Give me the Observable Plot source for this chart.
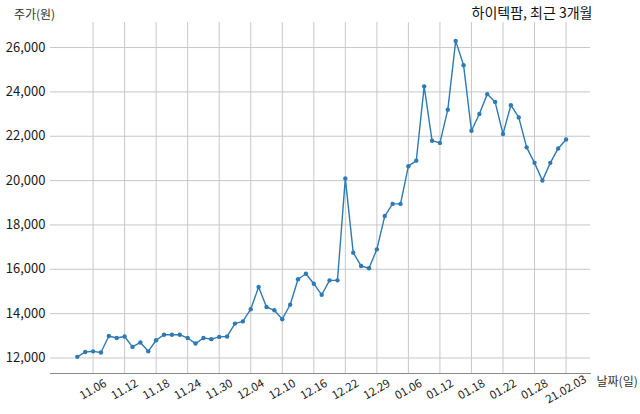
<!DOCTYPE html>
<html>
<head>
<meta charset="utf-8">
<script src="https://cdn.jsdelivr.net/npm/d3@7"></script>
<script src="https://cdn.jsdelivr.net/npm/@observablehq/plot@0.6"></script>
<style>
  body { margin: 0; background: #fff; }
  #chart svg { display: block; }
</style>
</head>
<body>
<div id="chart"></div>
<script>
// Trading days (index-based x axis)
const dates = [
  "2020-11-04","2020-11-05","2020-11-06","2020-11-09","2020-11-10","2020-11-11","2020-11-12","2020-11-13",
  "2020-11-16","2020-11-17","2020-11-18","2020-11-19","2020-11-20","2020-11-23","2020-11-24","2020-11-25",
  "2020-11-26","2020-11-27","2020-11-30",
  "2020-12-01","2020-12-02","2020-12-03","2020-12-04","2020-12-07","2020-12-08","2020-12-09","2020-12-10",
  "2020-12-11","2020-12-14","2020-12-15","2020-12-16","2020-12-17","2020-12-18","2020-12-21","2020-12-22",
  "2020-12-23","2020-12-24","2020-12-28","2020-12-29","2020-12-30",
  "2021-01-04","2021-01-05","2021-01-06","2021-01-07","2021-01-08","2021-01-11","2021-01-12","2021-01-13",
  "2021-01-14","2021-01-15","2021-01-18","2021-01-19","2021-01-20","2021-01-21","2021-01-22","2021-01-25",
  "2021-01-26","2021-01-27","2021-01-28","2021-01-29",
  "2021-02-01","2021-02-02","2021-02-03"
];
const prices = [
  12050, 12270, 12300, 12250, 12990, 12900, 12970, 12500,
  12700, 12300, 12800, 13050, 13050, 13050, 12900, 12650,
  12900, 12850, 12950,
  12970, 13550, 13650, 14200, 15200, 14300, 14150, 13750,
  14400, 15550, 15800, 15350, 14850, 15500, 15500, 20100,
  16750, 16150, 16050, 16900, 18400,
  18950, 18950, 20650, 20900, 24250, 21800, 21700, 23200,
  26300, 25200, 22250, 23000, 23900, 23550, 22100, 23400,
  22850, 21500, 20800, 20000,
  20800, 21450, 21850
];
const tickDates = [
  "2020-11-06","2020-11-12","2020-11-18","2020-11-24","2020-11-30","2020-12-04","2020-12-10","2020-12-16",
  "2020-12-22","2020-12-29","2021-01-06","2021-01-12","2021-01-18","2021-01-22","2021-01-28","2021-02-03"
];
const tickLabels = [
  "11.06","11.12","11.18","11.24","11.30","12.04","12.10","12.16",
  "12.22","12.29","01.06","01.12","01.18","01.22","01.28","21.02.03"
];
const yTicks = [12000, 14000, 16000, 18000, 20000, 22000, 24000, 26000];

const title = "하이텍팜, 최근 3개월";
const yLabel = "주가(원)";
const xLabel = "날짜(일)";

const data = dates.map((d, i) => ({i, date: d, price: prices[i]}));
const tickIdx = tickDates.map(d => dates.indexOf(d));

const lineColor = "#2f7ab3";
const font = "'Noto Sans CJK KR', 'Noto Sans', sans-serif";

const chart = Plot.plot({
  width: 640,
  height: 414,
  marginLeft: 50,
  marginRight: 50,
  marginTop: 22,
  marginBottom: 41,
  style: {fontFamily: font, background: "#fff", color: "#222"},
  x: {domain: [-3.4, 65.1], axis: null},
  y: {domain: [11300, 27130]},
  marks: [
    Plot.gridY(yTicks, {stroke: "#c8c8c8", strokeOpacity: 1, strokeWidth: 1}),
    Plot.gridX(tickIdx, {stroke: "#c8c8c8", strokeOpacity: 1, strokeWidth: 1}),
    Plot.frame({anchor: "bottom", stroke: "#8a8a8a", strokeWidth: 1}),
    Plot.line(data, {x: "i", y: "price", stroke: lineColor, strokeWidth: 1.4}),
    Plot.dot(data, {x: "i", y: "price", r: 2.2, fill: lineColor, stroke: "none"}),
    Plot.axisY(yTicks, {tickSize: 0, tickPadding: 5, tickFormat: d3.format(","), fontSize: 13, fill: "#1a1a1a", label: null}),
    Plot.text(tickIdx, {
      x: d => d, frameAnchor: "bottom", dy: 16, rotate: -30,
      textAnchor: "middle", lineAnchor: "middle",
      text: (d, k) => tickLabels[k], fontSize: 11.5, fill: "#1a1a1a"
    }),
    Plot.text([yLabel], {frameAnchor: "top-left", text: d => d, dx: -16, dy: -7, textAnchor: "middle", lineAnchor: "middle", fontSize: 12, fill: "#333"}),
    Plot.text([title], {frameAnchor: "top-right", text: d => d, dx: 2, dy: -9, textAnchor: "end", lineAnchor: "middle", fontSize: 14, fill: "#111"}),
    Plot.text([xLabel], {frameAnchor: "bottom-right", text: d => d, dx: 6, dy: 9, textAnchor: "start", lineAnchor: "middle", fontSize: 12, fill: "#333"})
  ]
});
document.getElementById("chart").appendChild(chart);
</script>
</body>
</html>
